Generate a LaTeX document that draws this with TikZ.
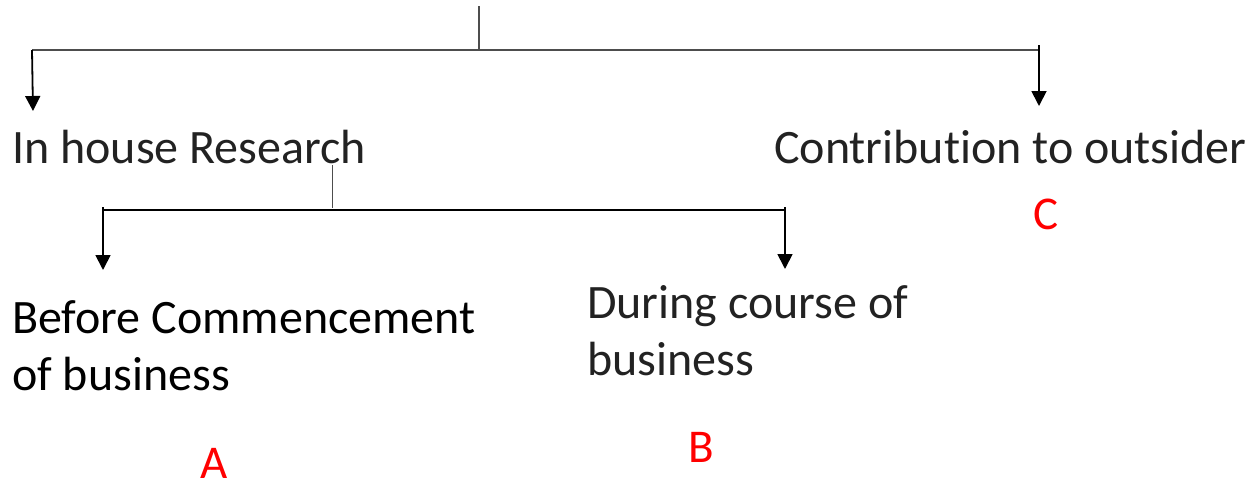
\documentclass[tikz,border=0pt]{standalone}
\usepackage{fontspec}
\setmainfont{Carlito}[Ligatures=NoCommon]
\usetikzlibrary{arrows.meta}
\definecolor{txtgray}{HTML}{222222}
\definecolor{linegray}{HTML}{4D4D4D}
\definecolor{lblred}{HTML}{FF0000}
\begin{document}
\begin{tikzpicture}[x=1pt,y=-1pt,
  lbl/.style={anchor=base west,inner sep=0pt,font=\fontsize{48}{57}\selectfont,align=left},
  letter/.style={anchor=base,inner sep=0pt,font=\fontsize{47}{57}\selectfont,text=lblred},
  stem/.style={draw=linegray,line width=1.3pt},
  bar/.style={draw=linegray,line width=1.6pt},
  bar2/.style={draw=black,line width=1.3pt},
  arr/.style={draw=black,line width=1.8pt,-{Triangle[width=15pt,length=15pt]}}]
\useasboundingbox (0,0) rectangle (1256,482);
% coordinates
\coordinate (top) at (479,6);
\coordinate (j1) at (479,50);
\coordinate (l1) at (32,50);
\coordinate (r1) at (1039,50);
\coordinate (r1s) at (1039,45);
\coordinate (t1) at (33,111);
\coordinate (t2) at (1039,106);
% texts (multi-line nodes: base = last line)
\node[lbl,text=txtgray] (inhouse) at (12,163) {In house Research};
\node[lbl,text=txtgray] (contrib) at (774,163) {Contribution to outsider};
\node[lbl,text=black] (before) at (12,390) {Before Commencement\\of business};
\node[lbl,text=txtgray] (during) at (587,375) {During course of\\business};
\node[letter] (A) at (214,478) {A};
\node[letter] (B) at (701,462) {B};
\node[letter] (C) at (1046,229) {C};
% level 2 coordinates
\coordinate (s2) at (332,165);
\coordinate (j2) at (332,208);
\coordinate (l2) at (103,210);
\coordinate (r2) at (785,210);
\coordinate (l2s) at (103,207);
\coordinate (r2s) at (785,207);
\coordinate (t3) at (103,270);
\coordinate (t4) at (785,269);
% connectors
\draw[stem] (top) -- (j1);
\draw[bar] (l1) -- (r1);
\draw[arr] (l1) -- (t1);
\draw[arr] (r1s) -- (t2);
\draw[stem,line width=1pt] (s2) -- (j2);
\draw[bar2] (l2) -- (r2);
\draw[arr] (l2s) -- (t3);
\draw[arr] (r2s) -- (t4);
\end{tikzpicture}
\end{document}
